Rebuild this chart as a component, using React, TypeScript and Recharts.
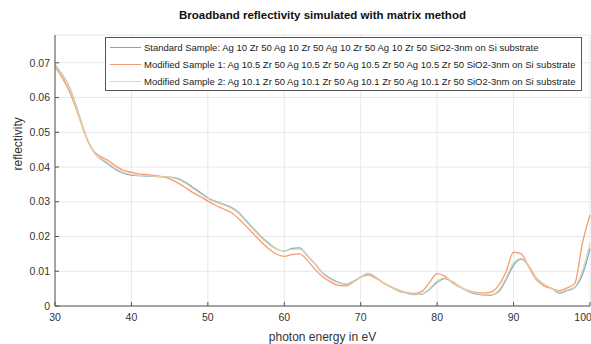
import React from "react";
import { LineChart, Line, XAxis, YAxis, CartesianGrid } from "recharts";

const energy = [
  30, 31, 32, 33, 34, 35, 36, 37, 38, 39, 40, 41, 42, 43, 44, 45, 46, 47, 48, 49,
  50, 51, 52, 53, 54, 55, 56, 57, 58, 59, 60, 61, 62, 63, 64, 65, 66, 67, 68, 69,
  70, 71, 72, 73, 74, 75, 76, 77, 78, 79, 80, 81, 82, 83, 84, 85, 86, 87, 88, 89,
  90, 91, 92, 93, 94, 95, 96, 97, 98, 99, 100,
];

// Standard Sample: Ag 10
const standard = [
  0.0695, 0.0664, 0.0624, 0.056, 0.0492, 0.0445, 0.0423, 0.0408, 0.0392, 0.0382,
  0.0377, 0.0375, 0.0374, 0.0373, 0.0372, 0.0371, 0.0367, 0.0357, 0.0342, 0.0327,
  0.0311, 0.0301, 0.0293, 0.0285, 0.027, 0.0246, 0.0222, 0.0199, 0.018, 0.0164,
  0.0158, 0.0166, 0.0167, 0.0145, 0.0122, 0.0096, 0.008, 0.0069, 0.0063, 0.007,
  0.0084, 0.0094, 0.0082, 0.0066, 0.0054, 0.0043, 0.0037, 0.0033, 0.0034, 0.0048,
  0.0068, 0.0079, 0.007, 0.0055, 0.0043, 0.0035, 0.0032, 0.0031, 0.004, 0.0075,
  0.0117, 0.0135, 0.0115, 0.008, 0.0062, 0.005, 0.0037, 0.0044, 0.0053, 0.009,
  0.0165,
];

// Modified Sample 1: Ag 10.5
const modified1 = [
  0.0688, 0.0655, 0.0612, 0.0553, 0.049, 0.0448, 0.043, 0.0418, 0.0402, 0.039,
  0.0385, 0.038, 0.0378, 0.0376, 0.0372, 0.0366, 0.0355, 0.0342, 0.0327, 0.0315,
  0.0302, 0.029, 0.028, 0.027, 0.0252, 0.023, 0.0207, 0.0184, 0.0164, 0.0149,
  0.0143, 0.0148, 0.015, 0.0132, 0.0106, 0.0085, 0.007, 0.006, 0.0058, 0.0068,
  0.0083, 0.0089, 0.008, 0.0066, 0.0055, 0.0046, 0.0039, 0.0036, 0.0042, 0.0068,
  0.0093, 0.0086, 0.0067, 0.0054, 0.0045, 0.0039, 0.0037, 0.004, 0.0058, 0.0098,
  0.0155, 0.015, 0.0112, 0.0075, 0.0058, 0.005, 0.0044, 0.0052, 0.0065, 0.018,
  0.0262,
];

// Modified Sample 2: Ag 10.1
const modified2 = [
  0.0693, 0.0662, 0.0622, 0.0558, 0.0492, 0.0446, 0.0425, 0.0411, 0.0395, 0.0384,
  0.0379, 0.0376, 0.0375, 0.0374, 0.0372, 0.037, 0.0365, 0.0354, 0.0339, 0.0324,
  0.0309, 0.0299, 0.0291, 0.0282, 0.0267, 0.0243, 0.0219, 0.0196, 0.0177, 0.0163,
  0.0158, 0.0163, 0.0164, 0.0147, 0.0121, 0.0094, 0.0077, 0.0067, 0.0063, 0.0068,
  0.0083, 0.0093, 0.0083, 0.0067, 0.0054, 0.0044, 0.0038, 0.0034, 0.0035, 0.005,
  0.0072, 0.0081, 0.007, 0.0055, 0.0044, 0.0037, 0.0033, 0.0032, 0.0043, 0.008,
  0.0124, 0.0137, 0.0116, 0.0079, 0.0062, 0.005, 0.004, 0.0046, 0.0055, 0.01,
  0.018,
];

const xTicks = [30, 40, 50, 60, 70, 80, 90, 100];
const yTicks = [0, 0.01, 0.02, 0.03, 0.04, 0.05, 0.06, 0.07];

const seriesNames = [
  "Standard Sample: Ag 10 Zr 50 Ag 10 Zr 50 Ag 10 Zr 50 Ag 10 Zr 50 SiO2-3nm on Si substrate",
  "Modified Sample 1: Ag 10.5 Zr 50 Ag 10.5 Zr 50 Ag 10.5 Zr 50 Ag 10.5 Zr 50 SiO2-3nm on Si substrate",
  "Modified Sample 2: Ag 10.1 Zr 50 Ag 10.1 Zr 50 Ag 10.1 Zr 50 Ag 10.1 Zr 50 SiO2-3nm on Si substrate",
];
const colors = ["#6aaed8", "#f79a72", "#e8d2a6"];

const data = energy.map((e, i) => ({
  e,
  standard: standard[i],
  modified1: modified1[i],
  modified2: modified2[i],
}));

const font = "'Liberation Sans', Arial, sans-serif";
const axisColor = "#555";

export default function App() {
  return (
    <div style={{ position: "relative", width: 591, height: 344, fontFamily: font, background: "#fff" }}>
      <style>{"body{margin:0}"}</style>
      <div
        style={{
          position: "absolute",
          top: 9,
          left: 55,
          width: 535,
          textAlign: "center",
          fontWeight: "bold",
          fontSize: 11.5,
          color: "#111",
        }}
      >
        Broadband reflectivity simulated with matrix method
      </div>
      <LineChart width={591} height={344} data={data} margin={{ top: 35, right: 1, bottom: 6, left: 15 }}>
        <CartesianGrid stroke="#e8e8e8" />
        <XAxis
          dataKey="e"
          type="number"
          domain={[30, 100]}
          ticks={xTicks}
          height={32}
          stroke={axisColor}
          tickSize={-4}
          tickMargin={12}
          tick={{ fontSize: 10.5, fill: "#333", fontFamily: font }}
          label={{ value: "photon energy in eV", position: "insideBottom", offset: -3, fontSize: 12, fill: "#333", fontFamily: font }}
        />
        <YAxis
          type="number"
          domain={[0, 0.078]}
          ticks={yTicks}
          width={40}
          stroke={axisColor}
          tickSize={-4}
          tickMargin={9}
          tick={{ fontSize: 10.5, fill: "#333", fontFamily: font }}
          label={{ value: "reflectivity", angle: -90, position: "insideLeft", offset: 3, fontSize: 12, fill: "#333", fontFamily: font }}
        />
        <Line type="monotone" dataKey="standard" stroke={colors[0]} strokeWidth={1.3} dot={false} isAnimationActive={false} />
        <Line type="monotone" dataKey="modified1" stroke={colors[1]} strokeWidth={1.3} dot={false} isAnimationActive={false} />
        <Line type="monotone" dataKey="modified2" stroke={colors[2]} strokeWidth={1.3} dot={false} isAnimationActive={false} />
      </LineChart>
      <div
        style={{
          position: "absolute",
          left: 105,
          top: 37,
          width: 477,
          height: 54,
          border: "1px solid #555",
          background: "#fff",
          boxSizing: "border-box",
          fontSize: 9.5,
          color: "#222",
          paddingTop: 1,
        }}
      >
        {seriesNames.map((name, i) => (
          <div key={name} style={{ display: "flex", alignItems: "center", height: 17, whiteSpace: "nowrap" }}>
            <span style={{ display: "inline-block", width: 31, height: 0, borderTop: `1.3px solid ${colors[i]}`, marginLeft: 4, marginRight: 3 }} />
            <span>{name}</span>
          </div>
        ))}
      </div>
    </div>
  );
}
